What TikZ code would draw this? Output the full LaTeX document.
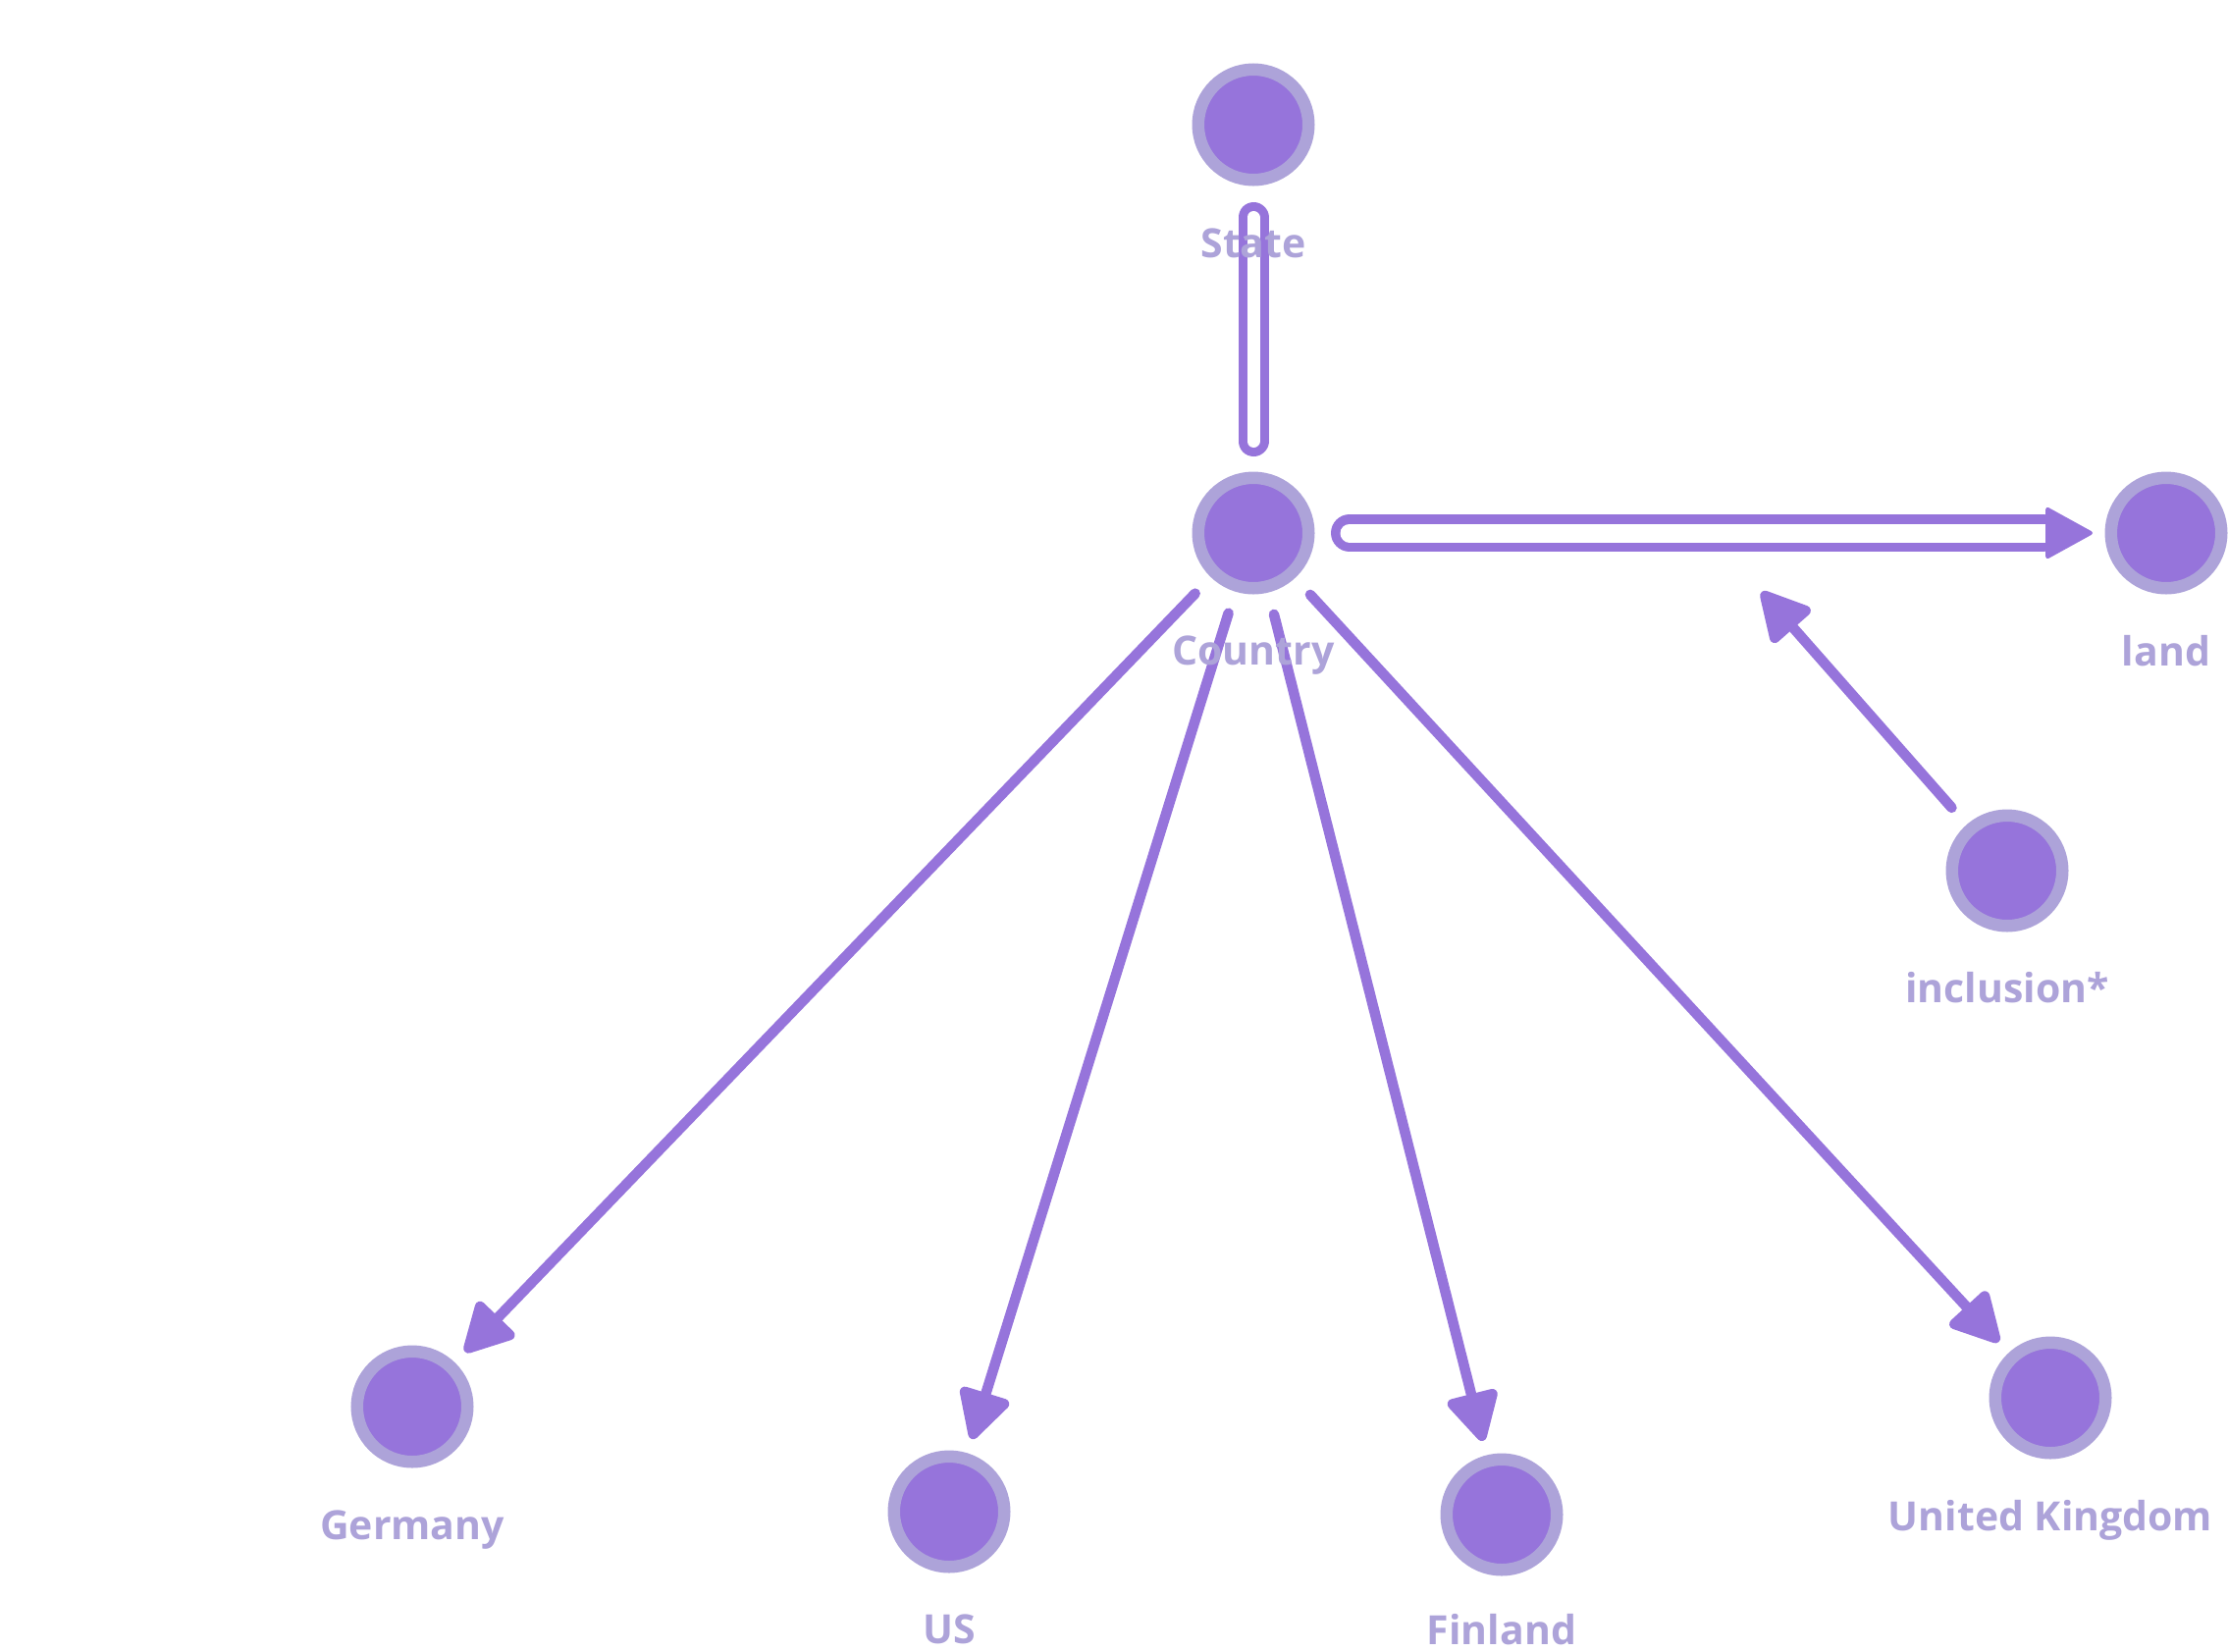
\documentclass[tikz,border=0pt]{standalone}
\usepackage{fontspec}
\setmainfont{Open Sans}
\usetikzlibrary{arrows.meta,calc}
\definecolor{nodefill}{RGB}{150,116,219}
\definecolor{ring}{RGB}{173,163,217}
\definecolor{edgecol}{RGB}{150,116,219}
\begin{document}
\begin{tikzpicture}[x=0.5pt,y=-0.5pt,
  ent/.style={circle, fill=nodefill, draw=ring, line width=6.25pt, minimum size=56.25pt, inner sep=0pt},
  lbl/.style={anchor=base, text=ring, font=\bfseries\fontsize{20.5pt}{24pt}\selectfont, inner sep=0pt},
  rel/.style={draw=edgecol, line width=5.25pt, line cap=round, shorten <=11.5pt, shorten >=7.5pt,
    -{Triangle[length=27.75pt, width=28.25pt, round]}},
  vtubeout/.style={draw=edgecol, line width=15.5pt, line cap=round, shorten <=16pt, shorten >=15.5pt},
  vtubein/.style={draw=white, line width=6.5pt, line cap=round, shorten <=16pt, shorten >=15.5pt},
  htubeout/.style={draw=edgecol, line width=19pt, line cap=round, shorten <=17.75pt, shorten >=31.75pt},
  htubein/.style={draw=white, line width=9.5pt, line cap=round, shorten <=17.75pt, shorten >=6.25pt,
    -{Triangle[length=25pt, width=27pt, line width=2pt, round, color=edgecol]}}
]
\useasboundingbox (0,0) rectangle (2270,1682);

% entities
\node[ent] (state)   at (1277,127)  {};
\node[ent] (country) at (1277,543)  {};
\node[ent] (land)    at (2207,543)  {};
\node[ent] (incl)    at (2045,887)  {};
\node[ent] (germany) at (420,1433)  {};
\node[ent] (us)      at (967,1540)  {};
\node[ent] (finland) at (1530,1543) {};
\node[ent] (uk)      at (2089,1424) {};

\coordinate (mid) at ($(country)!0.5!(land)$);

% connectors
\draw[vtubeout] (state) -- (country);
\draw[vtubein]  (state) -- (country);
\draw[htubeout] (country) -- (land);
\draw[htubein]  (country) -- (land);

\draw[rel] (country) -- (germany);
\draw[rel] (country) -- (us);
\draw[rel] (country) -- (finland);
\draw[rel] (country) -- (uk);
\draw[rel, shorten >=40pt] (incl) -- (mid);

% labels
\node[lbl] (stateL)   at (1277,262)  {State};
\node[lbl] (countryL) at (1277,677)  {Country};
\node[lbl] (landL)    at (2207,678)  {land};
\node[lbl] (inclL)    at (2045,1021) {inclusion*};
\node[lbl] (germanyL) at (420,1568)  {Germany};
\node[lbl] (usL)      at (967,1674)  {US};
\node[lbl] (finlandL) at (1530,1675) {Finland};
\node[lbl] (ukL)      at (2089,1559) {United Kingdom};
\end{tikzpicture}
\end{document}
